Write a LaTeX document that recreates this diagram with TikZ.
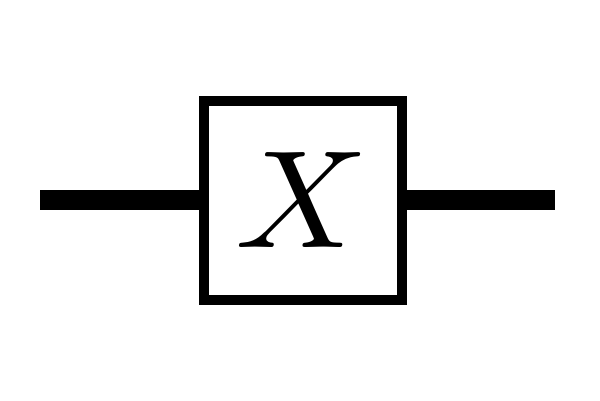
\documentclass[tikz,border=0pt]{standalone}
\begin{document}
\begin{tikzpicture}[x=1pt,y=-1pt,
  blockbox/.style={draw=black,line width=10pt,fill=white,minimum width=198.5pt,minimum height=199pt,inner sep=0pt},
  wire/.style={line width=19.5pt,line cap=butt}]
\useasboundingbox (0,0) rectangle (600,400);
\coordinate (lin) at (40,200);
\coordinate (rout) at (555,200);
\node[blockbox] (blk) at (303.2,200.3) {};
\node[inner sep=0pt,outer sep=0pt] (lbl) at (302.5,200.5) {\scalebox{14.7}[13.9]{$X$}};
\draw[wire] (lin) -- (lin -| blk.west);
\draw[wire] (rout -| blk.east) -- (rout);
\end{tikzpicture}
\end{document}
